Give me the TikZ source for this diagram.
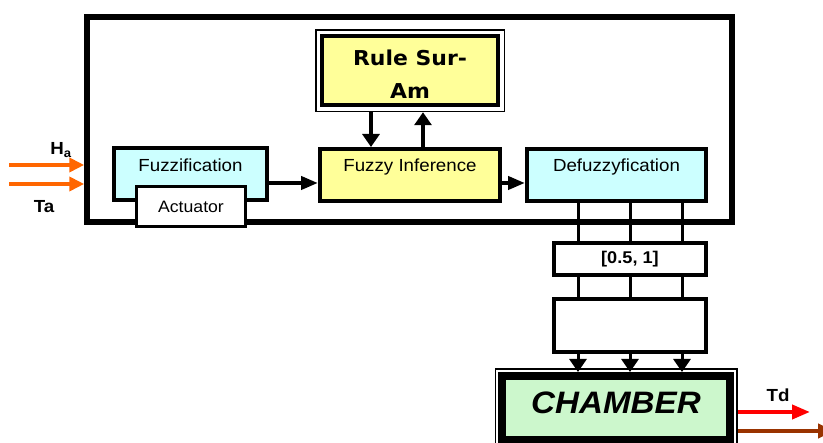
\documentclass[tikz,border=0pt]{standalone}
\usepackage{fontspec}
\setmainfont[FakeStretch=1.07]{Liberation Sans}
\newfontfamily\rulefont[FakeStretch=1.07]{DejaVu Sans}
\usetikzlibrary{arrows.meta,fit}
\definecolor{ruleyellow}{HTML}{FFFF99}
\definecolor{fuzzcyan}{HTML}{CCFFFF}
\definecolor{chambgreen}{HTML}{CCF7CC}
\definecolor{inorange}{HTML}{FF6600}
\definecolor{outbrown}{HTML}{993300}
\tikzset{
  blk/.style={draw,line width=4pt,inner sep=0pt,font=\fontsize{17.5}{20}\selectfont},
  toptext/.style={text height=23pt,text depth=29pt},
  flow/.style={line width=4pt,-{Triangle[length=17pt,width=13pt]}},
  vflow/.style={line width=4.5pt,-{Triangle[length=13pt,width=17pt]}},
  feed/.style={line width=3pt,-{Triangle[length=13pt,width=17pt]}},
  wire/.style={line width=3pt},
  signal/.style={line width=4.5pt,-{Triangle[length=15pt,width=14pt]}},
  lbl/.style={font=\fontsize{17.5}{20}\selectfont\bfseries}
}
\begin{document}
\begin{tikzpicture}[x=1pt,y=1pt]
\useasboundingbox (0,0) rectangle (823,443);
% controller frame
\node[draw,line width=5.5pt,minimum width=645pt,minimum height=205pt] (frame) at (409.5,323.5) {};
% rule base
\node[blk,fill=ruleyellow,minimum width=176.5pt,minimum height=69.5pt,align=center,font=\rulefont\bfseries\fontsize{20.5}{33}\selectfont] (rule) at (410,372.25) {Rule Sur-\rule{0pt}{23pt}\\Am};
\node[draw,line width=1.5pt,fit=(rule),inner sep=4pt] (rulefr) {};
% fuzzy blocks
\node[blk,toptext,fill=fuzzcyan,minimum width=153pt] (fuzzif) at (190.5,268.5) {Fuzzification};
\node[blk,toptext,fill=ruleyellow,minimum width=180pt] (fuzzy) at (410,268) {Fuzzy Inference};
\node[blk,toptext,fill=fuzzcyan,minimum width=179pt] (defuzz) at (616.5,268) {Defuzzyfication};
\node[blk,line width=3pt,fill=white,minimum width=109pt,minimum height=40pt,font=\fontsize{16.5}{19}\selectfont] (act) at (191,236.5) {Actuator};
% output stages
\node[blk,minimum width=152pt,minimum height=32pt,font=\fontsize{17}{19}\selectfont\bfseries] (range) at (630,184) {\relax[0.5, 1]};
\node[blk,minimum width=152pt,minimum height=53pt] (blank) at (630,117.5) {};
\node[blk,line width=8pt,fill=chambgreen,minimum width=227.5pt,text height=38pt,text depth=26pt,font=\fontsize{31}{34}\selectfont\bfseries\itshape] (chamber) at (616,35) {CHAMBER};
\node[draw,line width=1.5pt,fit=(chamber),inner sep=3pt] (chamberfr) {};
% connectors
\draw[vflow] ([xshift=-39pt]rulefr.south) -- ([xshift=-39pt]rulefr.south |- fuzzy.north);
\draw[vflow] ([xshift=13pt]rulefr.south |- fuzzy.north) -- ([xshift=13pt]rulefr.south);
\draw[flow] ([yshift=-8.5pt]fuzzif.east) -- ([yshift=-8.5pt]fuzzif.east -| fuzzy.west);
\draw[flow] ([yshift=-8pt]fuzzy.east) -- ([yshift=-8pt]fuzzy.east -| defuzz.west);
\foreach \dx in {-52,0,52} {
  \draw[wire] ([xshift=\dx pt]range.north |- defuzz.south) -- ([xshift=\dx pt]range.north);
  \draw[wire] ([xshift=\dx pt]range.south) -- ([xshift=\dx pt]blank.north);
  \draw[feed] ([xshift=\dx pt]blank.south) -- ([xshift=\dx pt]blank.south |- chamber.north);
}
% inputs
\coordinate (hin) at (9,278); \coordinate (tin) at (9,259);
\draw[signal,inorange] (hin) -- (hin -| frame.west);
\draw[signal,inorange] (tin) -- (tin -| frame.west);
\node[lbl] (hlbl) at (61,293) {H\textsubscript{a}};
\node[lbl] (tlbl) at (44,236) {Ta};
% outputs
\coordinate (tdout) at (810,31); \coordinate (brout) at (834,12);
\draw[line width=4pt,red,-{Triangle[length=18pt,width=14pt]}] ([xshift=4pt]chamber.east |- tdout) -- (tdout);
\draw[line width=4pt,outbrown,-{Triangle[length=16pt,width=14pt]}] ([xshift=4pt]chamber.east |- brout) -- (brout);
\node[lbl] (tdlbl) at (778,48) {Td};
\end{tikzpicture}
\end{document}
